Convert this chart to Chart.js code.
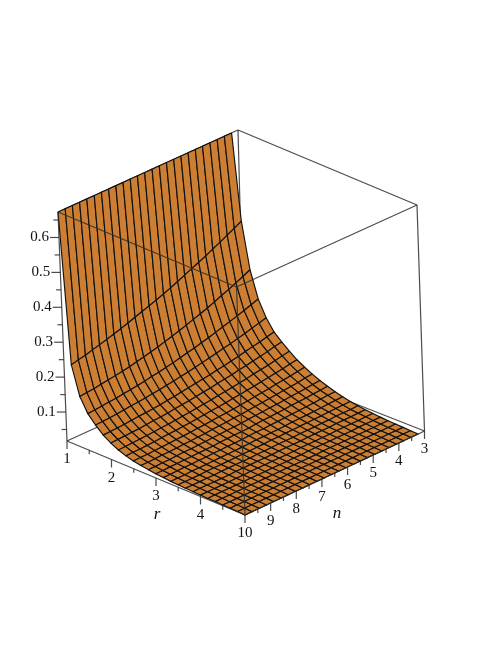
<!DOCTYPE html>
<html>
<head>
<meta charset="utf-8">
<style>html,body{margin:0;padding:0;background:#fff}canvas{display:block;filter:blur(0.35px)}</style>
<script src="https://cdn.jsdelivr.net/npm/chart.js@4"></script>
</head>
<body>
<canvas id="c" width="498" height="645"></canvas>
<script>
const rValues = [1,1.167,1.333,1.5,1.667,1.833,2,2.167,2.333,2.5,2.667,2.833,3,3.167,3.333,3.5,3.667,3.833,4,4.167,4.333,4.5,4.667,4.833,5];
const nValues = [3.25,3.53,3.81,4.09,4.38,4.66,4.94,5.22,5.5,5.78,6.06,6.34,6.63,6.91,7.19,7.47,7.75,8.03,8.31,8.59,8.88,9.16,9.44,9.72,10];
// surface height: one row per r, one column per n
const zRows = [
[.673,.673,.673,.673,.673,.673,.673,.673,.673,.673,.673,.673,.673,.673,.673,.673,.673,.673,.673,.673,.673,.673,.673,.673,.673],
[.430,.419,.409,.398,.388,.378,.369,.360,.351,.342,.333,.325,.317,.310,.303,.296,.289,.282,.276,.270,.264,.259,.253,.249,.244],
[.300,.290,.281,.272,.264,.255,.247,.240,.233,.226,.219,.213,.207,.201,.196,.191,.187,.182,.178,.175,.172,.169,.166,.164,.162],
[.225,.218,.211,.204,.198,.192,.186,.180,.175,.169,.165,.160,.155,.151,.147,.144,.140,.137,.134,.132,.129,.127,.125,.123,.122],
[.180,.174,.169,.163,.158,.153,.149,.144,.140,.136,.132,.128,.125,.121,.118,.115,.113,.110,.108,.106,.104,.102,.100,.099,.098],
[.148,.143,.138,.134,.130,.125,.121,.117,.114,.110,.107,.104,.101,.098,.095,.093,.090,.088,.086,.085,.083,.081,.080,.079,.078],
[.128,.124,.119,.115,.111,.107,.104,.100,.097,.094,.090,.088,.085,.082,.080,.078,.075,.073,.072,.070,.068,.067,.066,.065,.064],
[.110,.106,.102,.098,.095,.092,.088,.085,.082,.079,.077,.074,.072,.069,.067,.065,.063,.061,.060,.058,.057,.056,.055,.054,.053],
[.094,.091,.087,.084,.081,.078,.075,.073,.070,.068,.065,.063,.061,.059,.057,.055,.054,.052,.051,.050,.048,.047,.046,.046,.045],
[.081,.078,.075,.073,.070,.067,.065,.063,.060,.058,.056,.054,.053,.051,.049,.048,.046,.045,.044,.043,.042,.041,.040,.040,.039],
[.070,.068,.065,.063,.061,.059,.057,.055,.053,.051,.049,.048,.046,.045,.044,.042,.041,.040,.039,.038,.037,.037,.036,.035,.035],
[.060,.058,.056,.054,.053,.051,.049,.048,.046,.045,.044,.042,.041,.040,.039,.038,.037,.036,.035,.035,.034,.033,.033,.032,.032],
[.052,.050,.049,.047,.046,.045,.043,.042,.041,.040,.039,.037,.036,.036,.035,.034,.033,.032,.032,.031,.031,.030,.030,.029,.029],
[.045,.044,.043,.041,.040,.039,.038,.037,.036,.035,.034,.034,.033,.032,.031,.031,.030,.030,.029,.029,.028,.028,.028,.027,.027],
[.039,.038,.037,.036,.035,.034,.034,.033,.032,.031,.031,.030,.030,.029,.028,.028,.027,.027,.027,.026,.026,.026,.025,.025,.025],
[.034,.033,.033,.032,.031,.031,.030,.030,.029,.029,.028,.028,.027,.027,.026,.026,.026,.025,.025,.025,.025,.024,.024,.024,.024],
[.030,.029,.029,.029,.028,.028,.027,.027,.027,.026,.026,.026,.025,.025,.025,.024,.024,.024,.024,.024,.023,.023,.023,.023,.023],
[.027,.027,.026,.026,.026,.025,.025,.025,.025,.024,.024,.024,.024,.023,.023,.023,.023,.023,.023,.022,.022,.022,.022,.022,.022],
[.025,.025,.024,.024,.024,.024,.023,.023,.023,.023,.023,.022,.022,.022,.022,.022,.022,.022,.021,.021,.021,.021,.021,.021,.021],
[.023,.023,.023,.023,.022,.022,.022,.022,.022,.022,.022,.021,.021,.021,.021,.021,.021,.021,.021,.021,.021,.021,.021,.021,.020],
[.021,.021,.021,.021,.021,.021,.021,.021,.021,.021,.020,.020,.020,.020,.020,.020,.020,.020,.020,.020,.020,.020,.020,.020,.020],
[.020,.020,.020,.020,.020,.020,.020,.020,.020,.020,.020,.020,.020,.020,.020,.020,.019,.019,.019,.019,.019,.019,.019,.019,.019],
[.019,.019,.019,.019,.019,.019,.019,.019,.019,.019,.019,.019,.019,.019,.019,.019,.019,.019,.019,.019,.019,.019,.019,.019,.019],
[.018,.018,.018,.018,.018,.018,.018,.018,.018,.018,.018,.018,.018,.018,.018,.018,.018,.018,.018,.018,.018,.018,.018,.018,.018],
[.017,.017,.017,.017,.017,.017,.017,.017,.017,.017,.017,.017,.017,.017,.017,.017,.017,.017,.017,.017,.017,.017,.017,.017,.017]
];
const rTicks = [1,2,3,4];
const rMinorTicks = [1.5,2.5,3.5,4.5];
const nTicks = [3,4,5,6,7,8,9,10];
const nMinorTicks = [3.5,4.5,5.5,6.5,7.5,8.5,9.5];
const zTicks = [0.1,0.2,0.3,0.4,0.5,0.6];
const zMinorTicks = [0.05,0.15,0.25,0.35,0.45,0.55,0.65];
const axisRange = {r:[1,5], n:[3,10], z:[0.017,0.673]};

// The view: where the eight corners of the plot box land on the page.
const view = {
  r1n10:[[67,441],[58,212]], r5n10:[[245,515],[236.5,287]],
  r5n3:[[424.5,431],[417,205]], r1n3:[[244,360],[238,130]]
};
const lerp=(a,b,t)=>a+(b-a)*t;
function project(r,n,z){
  const u=(r-axisRange.r[0])/(axisRange.r[1]-axisRange.r[0]);
  const v=(n-axisRange.n[0])/(axisRange.n[1]-axisRange.n[0]);
  const w=(z-axisRange.z[0])/(axisRange.z[1]-axisRange.z[0]);
  const at=i=>lerp(
    lerp(lerp(view.r1n3[0][i],view.r1n3[1][i],w),lerp(view.r5n3[0][i],view.r5n3[1][i],w),u),
    lerp(lerp(view.r1n10[0][i],view.r1n10[1][i],w),lerp(view.r5n10[0][i],view.r5n10[1][i],w),u),v);
  return {x:at(0),y:at(1)};
}
const zLo=axisRange.z[0], zHi=axisRange.z[1];
const rLo=axisRange.r[0], rHi=axisRange.r[1], nLo=axisRange.n[0], nHi=axisRange.n[1];
const lineColor='rgba(45,45,45,0.85)';
const line=(pts,color=lineColor,w=1.2)=>({data:pts,showLine:true,fill:false,borderColor:color,borderWidth:w,pointRadius:0,tension:0});
const seg=(a,b,c=lineColor,w=1.2)=>line([project(...a),project(...b)],c,w);
const off=(p,dx,dy)=>({x:p.x+dx,y:p.y+dy});

const datasets=[];
// Chart.js paints the first dataset last, so front marks come first.
datasets.push(seg([rLo,nHi,zHi],[rHi,nHi,zHi]));
datasets.push(seg([rHi,nHi,zHi],[rHi,nLo,zHi]));
datasets.push(seg([rHi,nHi,zHi],[rHi,nHi,zLo]));
// axes and ticks
datasets.push(seg([rLo,nHi,zLo],[rHi,nHi,zLo]));
datasets.push(seg([rHi,nHi,zLo],[rHi,nLo,zLo]));
datasets.push(seg([rLo,nHi,zLo],[rLo,nHi,zHi]));
datasets.push(seg([rHi,nLo,zLo],[rHi,nLo,zHi]));
rTicks.forEach(v=>{const p=project(v,nHi,zLo);datasets.push(line([p,off(p,0,8)]));});
rMinorTicks.forEach(v=>{const p=project(v,nHi,zLo);datasets.push(line([p,off(p,0,4)]));});
nTicks.forEach(v=>{const p=project(rHi,v,zLo);datasets.push(line([p,off(p,0,8)]));});
nMinorTicks.forEach(v=>{const p=project(rHi,v,zLo);datasets.push(line([p,off(p,0,4)]));});
zTicks.forEach(v=>{const p=project(rLo,nHi,v);datasets.push(line([p,off(p,-9,0)]));});
zMinorTicks.forEach(v=>{const p=project(rLo,nHi,v);datasets.push(line([p,off(p,-5,0)]));});
// surface, nearest strip first
for(let i=rValues.length-2;i>=0;i--){
  for(let j=0;j<nValues.length-1;j++){
    const pts=[project(rValues[i],nValues[j],zRows[i][j]),project(rValues[i+1],nValues[j],zRows[i+1][j]),
      project(rValues[i+1],nValues[j+1],zRows[i+1][j+1]),project(rValues[i],nValues[j+1],zRows[i][j+1])];
    pts.push(pts[0]);
    datasets.push({data:pts,showLine:true,fill:'shape',backgroundColor:'#CC7F32',borderColor:'#111',borderWidth:1.15,pointRadius:0,tension:0});
  }
}
// back of the box
datasets.push(seg([rLo,nLo,zHi],[rHi,nLo,zHi]));
datasets.push(seg([rLo,nLo,zHi],[rLo,nHi,zHi]));
datasets.push(seg([rLo,nLo,zHi],[rLo,nLo,zLo]));
datasets.push(seg([rLo,nLo,zLo],[rLo,nHi,zLo]));
datasets.push(seg([rLo,nLo,zLo],[rHi,nLo,zLo]));

const labelPlugin={id:'labels',afterDatasetsDraw(chart){
  const {ctx,scales:{x,y}}=chart;
  const put=(p,dx,dy,t,font,align)=>{ctx.font=font;ctx.textAlign=align||'center';ctx.textBaseline='middle';ctx.fillStyle='#111';
    ctx.fillText(t,x.getPixelForValue(p.x)+dx,y.getPixelForValue(p.y)+dy);};
  const f='15px "Liberation Serif"';
  ctx.save();
  rTicks.forEach(v=>put(project(v,nHi,zLo),0,18.5,String(v),f));
  nTicks.forEach(v=>put(project(rHi,v,zLo),0,18.5,String(v),f));
  zTicks.forEach(v=>put(project(rLo,nHi,v),-10,0,v.toFixed(1),f,'right'));
  const ri='italic 17px "Liberation Serif"';
  put(project(3,nHi,zLo),1,37,'r',ri);
  put(project(rHi,7,zLo),15,35,'n',ri);
  ctx.restore();
}};

new Chart(document.getElementById('c'),{
  type:'scatter',
  data:{datasets},
  plugins:[labelPlugin],
  options:{
    responsive:false,animation:false,
    layout:{padding:0},
    plugins:{legend:{display:false},tooltip:{enabled:false},title:{display:false},filler:{propagate:false,drawTime:'beforeDatasetDraw'}},
    scales:{
      x:{type:'linear',display:false,min:0,max:498},
      y:{type:'linear',display:false,min:0,max:645,reverse:true}
    }
  }
});
</script>
</body>
</html>
